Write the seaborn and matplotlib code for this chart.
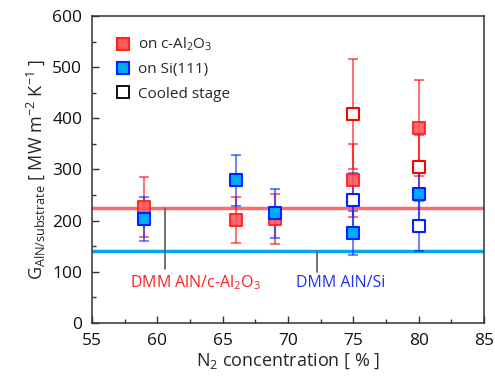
import numpy as np
import pandas as pd
import matplotlib
matplotlib.use("Agg")
import matplotlib.pyplot as plt
from matplotlib.lines import Line2D
from matplotlib.ticker import MultipleLocator
import seaborn as sns

# ---- data ----
x_al = [59, 66, 69, 75, 80]
g_al = [227, 201, 203, 279, 381]
e_al = [59, 45, 49, 71, 94]

x_si = [59, 66, 69, 75, 80]
g_si = [203, 279, 214, 176, 253]
e_si = [43, 50, 48, 43, 61]

x_al_cool = [75, 80]
g_al_cool = [408, 304]
e_al_cool = [108, 64]

x_si_cool = [75, 80]
g_si_cool = [240, 190]
e_si_cool = [53, 49]

dmm_al = 224
dmm_si = 141

sns.set_theme(style="ticks")
plt.rcParams['font.family'] = ['Open Sans', 'DejaVu Sans']
plt.rcParams['mathtext.default'] = 'regular'
plt.rcParams['font.size'] = 10

fig = plt.figure(figsize=(4.95, 3.8), dpi=100)
ax = fig.add_axes([0.186, 0.150, 0.792, 0.808])

RED = '#ff0000'
RED_FILL = '#ff5a5a'
BLUE = '#0022ff'
BLUE_FILL = '#00aaff'

# DMM lines
ax.axhline(dmm_al, color='#ff6a6a', lw=2.5, zorder=1)
ax.axhline(dmm_si, color='#00a8f0', lw=2.5, zorder=1)

# annotation pointers
ax.plot([60.55, 60.55], [dmm_al, 106], color='#666666', lw=1.3, zorder=1)
ax.plot([72.2, 72.2], [dmm_si, 100], color='#666666', lw=1.3, zorder=1)
ax.text(62.9, 78, 'DMM AlN/c-Al$_2$O$_3$', color='#ff2020', ha='center', va='center', fontsize=11.5)
ax.text(74.0, 78, 'DMM AlN/Si', color='#2030ff', ha='center', va='center', fontsize=11.5)

# error bars
ekw = dict(fmt='none', capsize=3.5, elinewidth=1.5, capthick=1.5, alpha=0.55, zorder=2)
ax.errorbar(x_al, g_al, yerr=e_al, ecolor=RED, **ekw)
ax.errorbar(x_al_cool, g_al_cool, yerr=e_al_cool, ecolor=RED, **ekw)
ax.errorbar(x_si, g_si, yerr=e_si, ecolor=BLUE, **ekw)
ax.errorbar(x_si_cool, g_si_cool, yerr=e_si_cool, ecolor=BLUE, **ekw)

ms = 65
sns.scatterplot(x=x_al, y=g_al, marker='s', s=ms, color=RED_FILL, edgecolor='#ff2020',
                linewidth=1.5, ax=ax, zorder=3, alpha=0.9)
sns.scatterplot(x=x_al_cool, y=g_al_cool, marker='s', s=ms, color='white', edgecolor=RED,
                linewidth=1.5, ax=ax, zorder=3)
sns.scatterplot(x=x_si, y=g_si, marker='s', s=ms, color=BLUE_FILL, edgecolor=BLUE,
                linewidth=1.5, ax=ax, zorder=4)
sns.scatterplot(x=x_si_cool, y=g_si_cool, marker='s', s=ms, color='white', edgecolor=BLUE,
                linewidth=1.5, ax=ax, zorder=4)

ax.set_xlim(55, 85)
ax.set_ylim(0, 600)
ax.xaxis.set_major_locator(MultipleLocator(5))
ax.xaxis.set_minor_locator(MultipleLocator(2.5))
ax.yaxis.set_major_locator(MultipleLocator(100))
ax.yaxis.set_minor_locator(MultipleLocator(50))
ax.tick_params(which='both', direction='in', colors='#333333', labelcolor='#111111',
               labelsize=12.5)
ax.tick_params(axis='x', pad=7)
ax.tick_params(axis='y', pad=7)
ax.tick_params(which='major', length=5, width=1)
ax.tick_params(which='minor', length=3, width=1)
for s in ax.spines.values():
    s.set_color('#333333')
    s.set_linewidth(1.1)

ax.set_xlabel('N$_2$ concentration [ % ]', fontsize=13, labelpad=2)
ax.set_ylabel('G$_{AlN/substrate}$ [ MW m$^{-2}$ K$^{-1}$ ]', fontsize=13, labelpad=4)

handles = [
    Line2D([], [], marker='s', ls='none', markersize=8, markerfacecolor=RED_FILL,
           markeredgecolor='#ff2020', markeredgewidth=1.5),
    Line2D([], [], marker='s', ls='none', markersize=8, markerfacecolor=BLUE_FILL,
           markeredgecolor=BLUE, markeredgewidth=1.5),
    Line2D([], [], marker='s', ls='none', markersize=8, markerfacecolor='white',
           markeredgecolor='black', markeredgewidth=1.3),
]
labels = ['on c-Al$_2$O$_3$', 'on Si(111)', 'Cooled stage']
ax.legend(handles, labels, loc='upper left', bbox_to_anchor=(0.02, 0.98), frameon=False,
          fontsize=11, handletextpad=0.4, labelspacing=0.6, handlelength=1.2)

fig.savefig('out.png', dpi=100)
